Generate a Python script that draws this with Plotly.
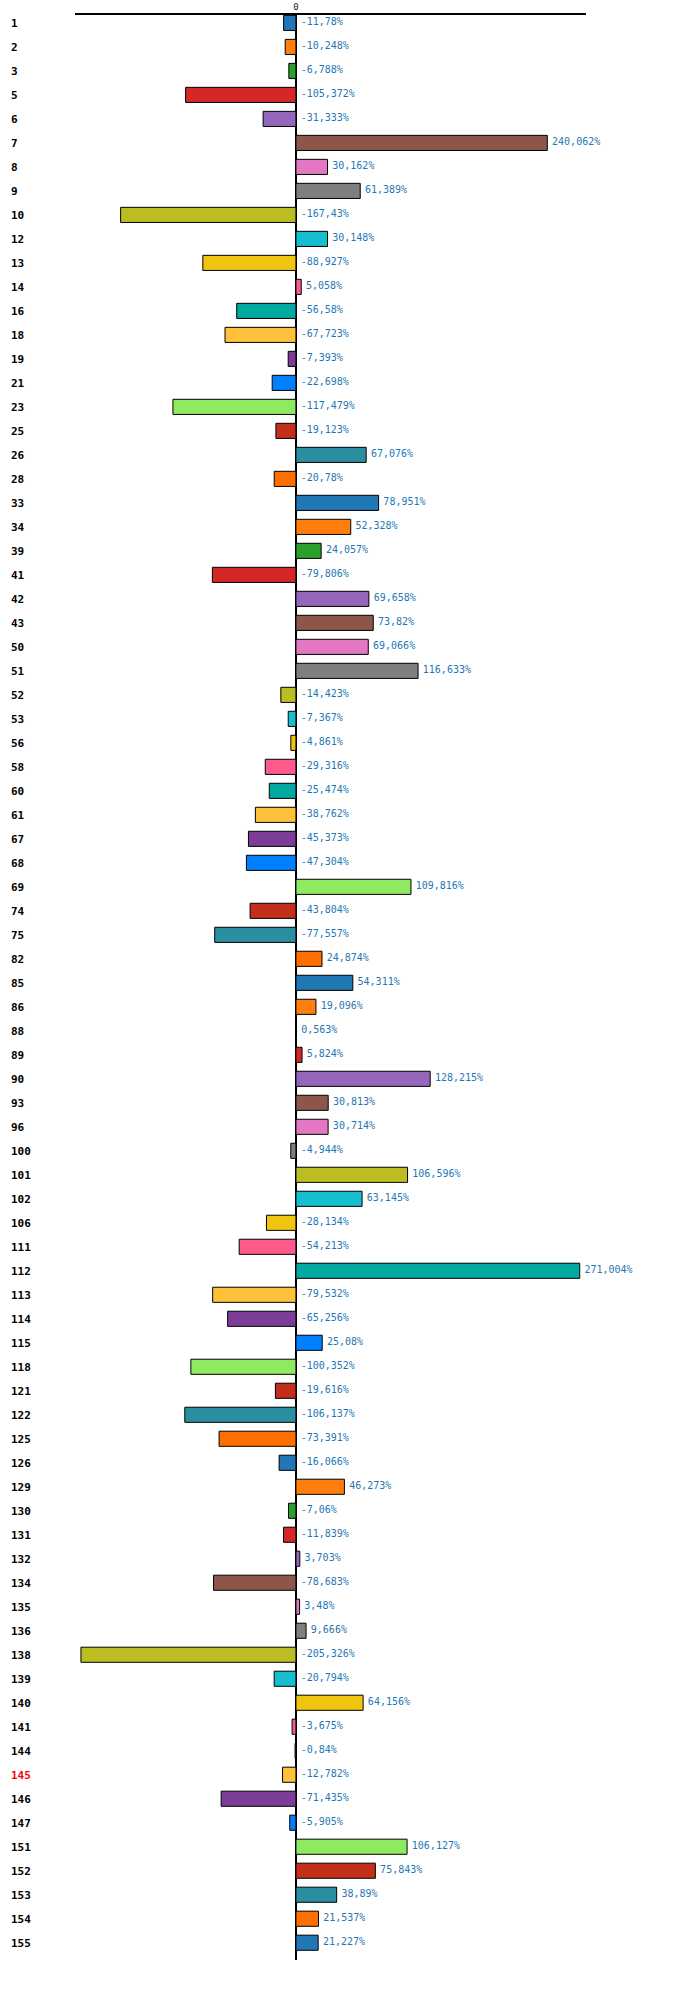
import plotly.graph_objects as go

# row ids (y categories), top to bottom
ids = ['1', '2', '3', '5', '6', '7', '8', '9', '10', '12',
       '13', '14', '16', '18', '19', '21', '23', '25', '26', '28',
       '33', '34', '39', '41', '42', '43', '50', '51', '52', '53',
       '56', '58', '60', '61', '67', '68', '69', '74', '75', '82',
       '85', '86', '88', '89', '90', '93', '96', '100', '101', '102',
       '106', '111', '112', '113', '114', '115', '118', '121', '122', '125',
       '126', '129', '130', '131', '132', '134', '135', '136', '138', '139',
       '140', '141', '144', '145', '146', '147', '151', '152', '153', '154',
       '155']

# percent change per row
pct = [-11.78, -10.248, -6.788, -105.372, -31.333, 240.062, 30.162, 61.389, -167.43, 30.148,
       -88.927, 5.058, -56.58, -67.723, -7.393, -22.698, -117.479, -19.123, 67.076, -20.78,
       78.951, 52.328, 24.057, -79.806, 69.658, 73.82, 69.066, 116.633, -14.423, -7.367,
       -4.861, -29.316, -25.474, -38.762, -45.373, -47.304, 109.816, -43.804, -77.557, 24.874,
       54.311, 19.096, 0.563, 5.824, 128.215, 30.813, 30.714, -4.944, 106.596, 63.145,
       -28.134, -54.213, 271.004, -79.532, -65.256, 25.08, -100.352, -19.616, -106.137, -73.391,
       -16.066, 46.273, -7.06, -11.839, 3.703, -78.683, 3.48, 9.666, -205.326, -20.794,
       64.156, -3.675, -0.84, -12.782, -71.435, -5.905, 106.127, 75.843, 38.89, 21.537,
       21.227]

# highlighted row label
highlight = '145'

palette = ['#1f77b4', '#ff7f0e', '#2ca02c', '#d62728', '#9467bd',
           '#8c564b', '#e377c2', '#7f7f7f', '#bcbd22', '#17becf',
           '#f1c40f', '#ff5a8c', '#00aaa0', '#ffc13c', '#7d3c98',
           '#0080ff', '#8fea5f', '#c42f1c', '#2c8fa1', '#ff6f00']

colors = [palette[i % len(palette)] for i in range(len(ids))]
labels = [str(v).replace('.', ',') + '%' for v in pct]
text_x = [max(v, 0) for v in pct]
tick_text = ['<span style="color:red">%s</span>' % c if c == highlight else c for c in ids]

fig = go.Figure()

fig.add_trace(go.Bar(
    x=pct, y=ids, orientation='h',
    marker=dict(color=colors, line=dict(color='black', width=1)),
    hoverinfo='x+y',
))

# value labels, just right of the bar end (or of zero for negative bars)
fig.add_trace(go.Scatter(
    x=text_x, y=ids, mode='markers+text', text=labels,
    textposition='middle right',
    marker=dict(size=6, color='rgba(0,0,0,0)'),
    textfont=dict(family='DejaVu Sans Mono', size=10, color='#1f77b4'),
    cliponaxis=False,
    hoverinfo='skip',
))

n = len(ids)
fig.update_layout(
    width=700, height=1989,
    margin=dict(l=7, r=114, t=15, b=29),
    paper_bgcolor='white', plot_bgcolor='white',
    showlegend=False,
    bargap=0.37,
    xaxis=dict(
        domain=[68 / 579, 1],
        side='top',
        automargin=False,
        range=[-211, 277],
        showgrid=False,
        showline=True, linecolor='black', linewidth=1.5,
        zeroline=True, zerolinecolor='black', zerolinewidth=2,
        tickvals=[0], ticktext=['0'], ticks='',
        ticklabelstandoff=0,
        tickfont=dict(family='DejaVu Sans Mono', size=9, color='#222'),
    ),
    yaxis=dict(
        type='category',
        categoryorder='array', categoryarray=ids,
        range=[n - 1 + 0.72, -0.33],
        anchor='free', position=0,
        automargin=False,
        showgrid=False, showline=False, zeroline=False, ticks='',
        tickvals=ids, ticktext=tick_text,
        ticklabelposition='inside',
        tickfont=dict(family='DejaVu Sans Mono', size=11, color='black', weight='bold'),
    ),
)

fig.write_html('out.html', config={'displayModeBar': False},
               post_script="document.body.style.margin='0';")
